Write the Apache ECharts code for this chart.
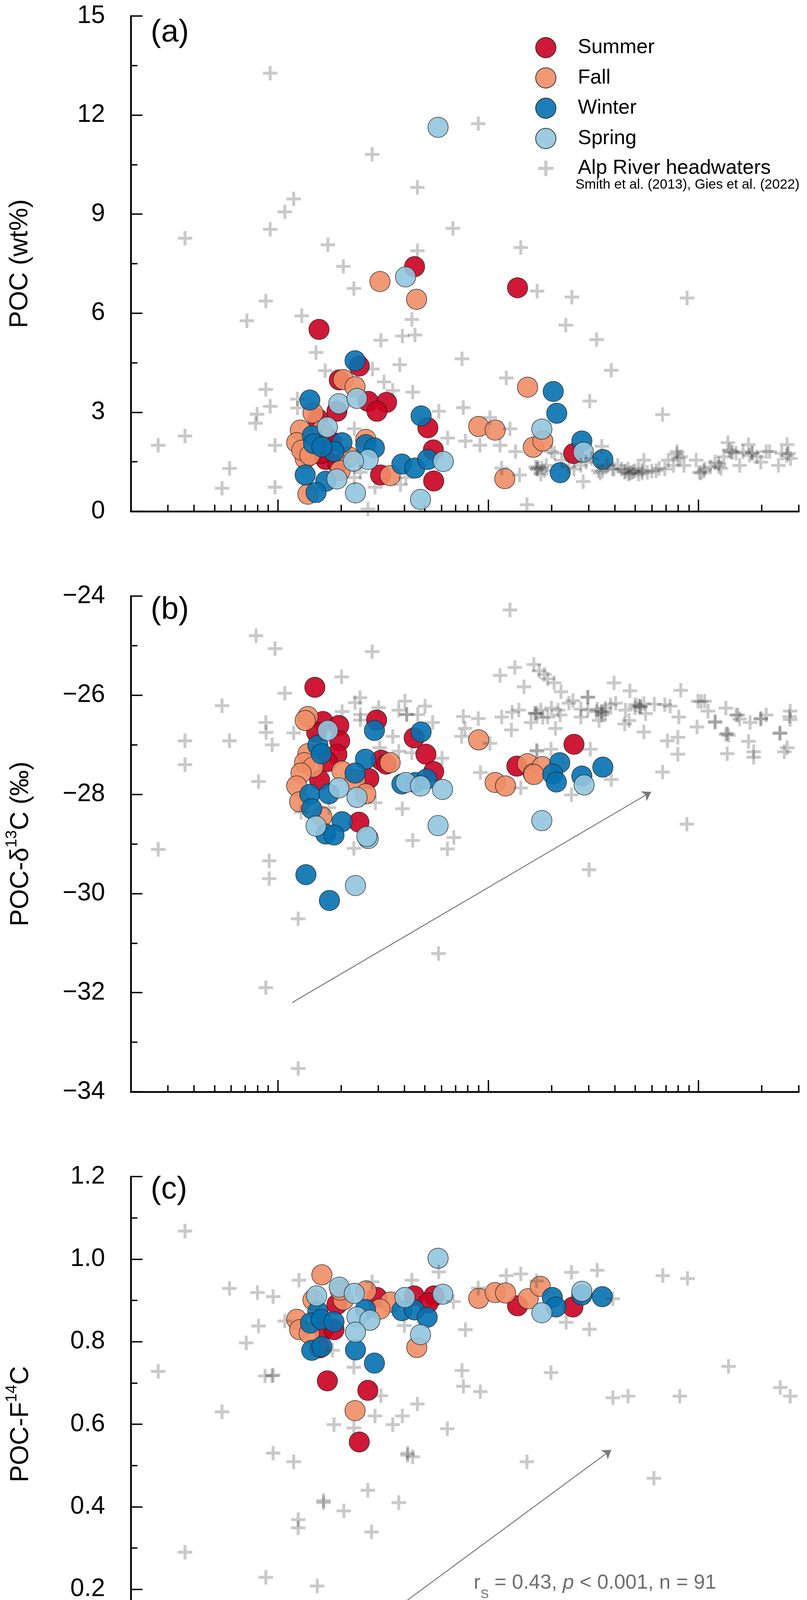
<!DOCTYPE html>
<html>
<head>
<meta charset="utf-8">
<script src="https://cdn.jsdelivr.net/npm/echarts@6/dist/echarts.min.js"></script>
<style>
html,body{margin:0;padding:0;background:#fff}
#chart{width:2067px;height:4596px}
</style>
</head>
<body>
<div id="chart"></div>
<script>
// ---- panel (a): runoff (mm/d) vs POC (wt%)
var pocSummer = [[4.47,7.41],[13.8,6.77],[1.57,5.51],[2.44,4.40],[1.96,3.98],[2.69,3.33],[3.29,3.30],[2.96,3.03],[1.91,3.03],[1.55,2.80],[5.17,2.53],[1.72,2.23],[1.69,1.57],[1.93,1.44],[3.08,1.10],[5.49,1.86],[5.51,0.92],[25.5,1.75],[1.60,1.75],[1.80,2.10]];
var pocFall = [[3.06,6.96],[4.57,6.42],[2.05,3.99],[2.33,3.77],[1.47,2.98],[9.02,2.57],[10.8,2.46],[15.4,3.76],[16.4,1.94],[18.2,2.13],[12.0,0.99],[1.28,2.46],[1.23,2.08],[1.62,2.45],[2.18,1.65],[2.62,2.18],[1.35,1.60],[1.39,0.52],[1.98,1.23],[3.42,1.08],[1.30,1.85],[1.42,1.70]];
var pocWinter = [[2.33,4.56],[1.42,3.37],[4.80,2.89],[1.46,2.29],[2.02,2.08],[1.85,1.81],[2.62,2.02],[2.88,1.92],[1.35,1.10],[1.69,0.91],[1.52,0.57],[3.89,1.43],[4.48,1.31],[5.16,1.57],[20.4,3.63],[21.2,2.97],[27.9,2.13],[35.1,1.57],[22.0,1.17],[1.48,2.05],[1.62,1.95]];
var pocSpring = [[4.05,7.10],[5.78,11.63],[1.95,3.26],[2.38,3.42],[1.72,2.55],[2.69,1.57],[2.29,1.52],[1.91,0.98],[2.34,0.56],[6.12,1.51],[4.77,0.36],[18.0,2.49],[28.4,1.79]];
var pocAlp = [[0.92,13.27],[2.81,10.81],[8.98,11.74],[4.61,9.81],[1.19,9.46],[1.08,9.07],[0.92,8.54],[0.362,8.27],[6.80,8.57],[1.73,8.07],[4.61,7.89],[14.3,7.99],[2.05,7.42],[2.30,6.75],[17.1,6.67],[25.0,6.49],[88.3,6.46],[0.877,6.37],[0.713,5.77],[1.30,5.92],[23.4,5.64],[32.8,5.20],[4.34,5.81],[3.91,5.31],[4.49,5.34],[3.09,5.18],[1.52,4.81],[7.51,4.62],[3.80,4.44],[1.68,4.26],[2.82,4.31],[38.5,4.27],[12.2,4.04],[3.20,3.92],[3.52,3.66],[4.38,3.61],[0.877,3.69],[1.24,3.40],[1.24,3.13],[0.92,3.18],[0.797,2.94],[0.784,2.67],[30.4,3.34],[67.5,2.93],[5.83,3.03],[7.62,3.14],[10.2,2.84],[2.31,2.50],[6.42,2.22],[7.80,2.13],[9.14,2.00],[11.4,2.00],[12.7,2.50],[0.97,2.00],[0.27,2.00],[0.362,2.28],[13.5,1.81],[11.6,1.31],[14.1,1.10],[2.47,1.18],[2.31,1.02],[2.90,0.73],[4.06,1.02],[3.83,0.81],[0.97,0.73],[0.59,1.30],[0.543,0.70],[2.68,0.07],[15.3,0.20],[28.3,0.90],[17.3,1.34],
  [16.8,1.34],[17.1,1.28],[17.8,1.13],[18.5,1.23],[18.9,1.39],[20.0,1.81],[20.7,1.76],[22.4,1.55],[24.2,1.34],[25.6,1.28],[27.6,1.39],[29.2,1.49],[31.0,1.60],[33.4,1.23],[34.7,1.97],[36.8,1.39],[39.0,1.28],[41.3,1.39],[43.0,1.28],[44.6,1.18],[46.3,1.28],[46.5,1.13],[48.1,1.18],[50.0,1.23],[51.9,1.28],[51.9,1.13],[53.9,1.23],[55.0,1.55],[57.1,1.18],[62.9,1.23],[69.2,1.28],[71.9,1.55],[76.1,1.39],[79.1,1.81],[82.2,1.65],[85.4,1.39],[97.5,1.55],[101,1.18],[107,1.28],[114,1.34],[120,1.49],[125,1.44],[132,1.65],[138,2.08],[143,1.81],[151,1.76],[157,1.39],[163,1.81],[173,2.02],[180,1.76],[190,1.65],[198,1.49],[210,1.81],[218,1.81],[240,1.39],[249,1.76],[264,2.02],[274,1.60],
  [47.1,1.16],[49.0,1.20],[54.0,1.16],[45.0,1.22],[17.1,1.28],[18.0,1.32],[34.1,1.16],[35.0,1.22],[39.7,1.28],[79.0,1.73],[80.0,1.62],[103,1.16],[106,1.22],[125,1.36],[128,1.30],[140,1.86],[145,1.78],[180,1.77],[175,1.70],[263,1.69],[268,1.75],[60.0,1.22],[65.0,1.30]];

// ---- panel (b): runoff vs POC-d13C (permil)
var d13cSummer = [[1.50,-25.84],[1.64,-26.53],[1.95,-26.61],[1.53,-26.75],[2.95,-26.50],[1.97,-26.92],[1.91,-27.19],[1.72,-27.34],[3.10,-27.31],[3.28,-27.39],[2.71,-27.68],[1.58,-27.71],[2.43,-28.56],[4.45,-26.86],[5.06,-27.19],[5.51,-27.54],[13.7,-27.43],[25.6,-26.99]];
var d13cFall = [[1.39,-26.43],[1.35,-26.51],[1.39,-27.18],[1.34,-27.36],[1.47,-27.45],[3.42,-27.36],[2.02,-27.53],[2.33,-27.71],[1.29,-27.57],[1.23,-27.83],[2.62,-27.99],[1.27,-28.15],[1.62,-28.45],[9.02,-26.90],[10.8,-27.76],[12.1,-27.83],[15.4,-27.38],[16.4,-27.58],[18.1,-27.44],[16.5,-27.60]];
var d13cWinter = [[2.88,-26.71],[1.55,-27.01],[1.61,-27.18],[2.61,-27.29],[2.33,-27.57],[1.42,-28.00],[1.75,-27.99],[1.45,-28.29],[2.02,-28.55],[1.69,-28.80],[1.85,-28.82],[4.80,-26.74],[3.89,-27.79],[4.51,-27.76],[5.10,-27.69],[1.36,-29.62],[1.76,-30.14],[21.9,-27.36],[20.3,-27.59],[21.1,-27.75],[27.9,-27.63],[35.1,-27.45]];
var d13cSpring = [[1.73,-26.71],[1.95,-27.87],[2.38,-28.06],[1.52,-28.64],[2.69,-28.89],[2.65,-28.85],[4.06,-27.76],[4.77,-27.83],[6.07,-27.90],[5.78,-28.63],[18.0,-28.53],[2.34,-29.84],[28.6,-27.81]];
var d13cAlp = [[12.7,-24.28],[0.788,-24.80],[0.97,-25.06],[2.81,-25.12],[2.01,-25.63],[1.08,-25.96],[0.543,-26.21],[0.362,-26.92],[0.589,-26.92],[0.362,-27.40],[0.877,-26.55],[0.88,-26.75],[0.94,-27.0],[0.81,-27.74],[0.27,-29.11],[0.91,-29.34],[0.91,-29.70],[1.25,-30.51],[0.877,-31.90],[5.81,-31.21],[1.25,-33.53],[30.2,-29.52],[88.1,-28.60],
  [2.46,-26.05],[2.33,-26.15],[4.02,-26.12],[5.01,-26.22],[2.02,-26.33],[2.47,-26.39],[2.47,-26.50],[3.02,-26.25],[3.76,-26.30],[4.10,-26.39],[4.10,-26.39],[4.63,-26.39],[5.45,-26.55],[1.19,-26.76],[3.52,-26.83],[3.05,-27.06],[3.76,-27.13],[4.34,-27.16],[6.04,-27.27],[7.62,-26.43],[8.98,-26.47],[7.76,-26.67],[7.48,-26.83],[11.4,-25.60],[13.4,-25.44],[14.8,-25.83],[11.6,-26.44],[12.9,-26.70],[13.0,-26.34],[16.7,-26.36],[10.2,-26.97],[9.19,-27.56],[17.1,-27.13],[14.3,-27.87],[2.91,-28.17],[3.91,-28.29],[1.75,-28.27],[1.29,-28.36],[6.87,-28.87],[4.38,-28.93],[6.40,-29.10],[2.30,-29.09],
  [16.5,-25.38],[17.5,-25.51],[18.5,-25.58],[19.2,-25.67],[20.6,-25.75],[22.2,-25.93],[16.8,-26.37],[17.8,-26.30],[19.2,-26.44],[20.0,-26.26],[20.9,-26.67],[21.5,-26.30],[22.0,-26.40],[24.2,-26.16],[25.3,-26.11],[27.6,-26.44],[27.6,-26.28],[29.8,-26.04],[29.8,-26.30],[32.8,-26.33],[33.7,-26.51],[34.7,-26.33],[34.7,-26.33],[36.1,-26.26],[38.2,-26.19],[39.7,-25.75],[40.4,-26.16],[44.6,-26.58],[46.8,-26.51],[47.2,-25.91],[50.1,-26.19],[53.0,-26.23],[53.0,-26.23],[56.1,-26.37],[55.0,-26.74],[61.7,-26.18],[69.2,-26.19],[73.3,-26.22],[80.7,-26.44],[82.4,-25.90],[71.2,-26.92],[79.8,-26.85],[79.8,-27.19],[67.5,-27.55],[99.5,-26.12],[107,-26.12],[98.5,-26.64],[111,-26.32],[120,-26.55],[135,-26.26],[135,-26.79],[139,-26.81],[137,-27.18],[151,-26.40],[157,-26.48],[173,-26.93],[183,-27.14],[183,-27.25],[198,-26.48],[210,-26.40],[244,-26.76],[273,-26.32],[273,-26.49],[264,-27.06],[256,-27.14],[176,-26.55],[38.5,-27.70],[24.9,-28.01],[30.6,-27.09],[19.9,-27.09],[17.0,-27.11],
  [34.7,-26.40],[33.0,-26.28],[36.0,-26.36],[52.0,-26.21],[50.0,-26.25],[55.0,-26.17],[17.1,-26.37],[18.2,-26.45],[29.8,-26.04],[103,-26.13],[120,-26.53],[137,-26.77],[154,-26.40],[198,-26.47],[244,-26.77],[271,-26.43],[45.0,-26.30],[14.0,-26.30],[16.0,-26.55]];
var d13cArrow = [[1.17,-32.20],[59.6,-27.95]];

// ---- panel (c): runoff vs POC-F14C
var f14cSummer = [[2.96,0.907],[4.45,0.911],[5.53,0.911],[1.91,0.890],[5.19,0.894],[1.65,0.829],[1.85,0.829],[1.58,0.785],[1.72,0.705],[2.68,0.682],[2.44,0.557],[13.8,0.887],[25.3,0.884]];
var f14cFall = [[1.62,0.962],[2.63,0.923],[1.47,0.901],[2.05,0.901],[3.43,0.896],[3.06,0.879],[1.23,0.854],[1.27,0.829],[1.41,0.820],[4.58,0.786],[2.33,0.633],[9.02,0.905],[10.8,0.919],[12.1,0.918],[15.5,0.904],[17.7,0.934],[1.98,0.925]];
var f14cWinter = [[2.61,0.878],[3.89,0.875],[4.46,0.877],[5.13,0.859],[1.55,0.873],[1.43,0.845],[1.61,0.854],[1.85,0.848],[1.45,0.779],[1.62,0.788],[2.34,0.780],[2.88,0.748],[20.2,0.907],[21.0,0.884],[27.9,0.913],[34.9,0.909]];
var f14cSpring = [[5.78,1.002],[1.96,0.932],[2.31,0.917],[1.53,0.911],[4.02,0.907],[6.09,0.915],[2.38,0.860],[2.74,0.852],[2.34,0.823],[4.77,0.817],[18.0,0.870],[27.9,0.922]];
var f14cAlp = [[1.26,0.949],[4.34,0.949],[5.83,0.969],[12.2,0.960],[14.3,0.964],[17.0,0.947],[8.97,0.930],[2.81,0.945],[6.84,0.897],[7.80,0.829],[4.00,0.839],[1.08,0.850],[0.95,0.909],[1.82,0.779],[7.51,0.730],[7.63,0.692],[9.18,0.679],[0.95,0.719],[3.09,0.669],[4.61,0.649],[2.30,0.738],[2.90,0.620],[3.91,0.620],[3.52,0.599],[1.85,0.599],[2.30,0.591],[6.40,0.589],[0.95,0.530],[1.19,0.509],[4.14,0.530],[4.38,0.521],[4.14,0.525],[15.3,0.509],[2.68,0.440],[1.65,0.415],[1.65,0.410],[3.76,0.410],[0.362,1.068],[0.27,0.728],[0.589,0.929],[0.80,0.919],[0.81,0.838],[0.708,0.797],[0.87,0.717],[0.94,0.717],[0.543,0.630],[1.25,0.369],[1.25,0.349],[2.06,0.390],[2.79,0.339],[0.362,0.290],[0.877,0.229],[1.54,0.208],[0.92,0.080],[61.4,0.469],[19.9,0.725],[30.3,0.830],[23.5,0.847],[39.2,0.664],[46.3,0.668],[81.5,0.668],[139,0.740],[245,0.689],[273,0.668],[67.7,0.960],[88.7,0.953],[24.9,0.968],[33.0,0.973],[39.2,0.904]];
var f14cArrow = [[2.23,0.073],[38.5,0.538]];
var f14cStatPos = [8.54, 0.206];

var xMajorTicks = [1, 10, 100];
var xMinorTicks = [0.3,0.4,0.5,0.6,0.7,0.8,0.9,2,3,4,5,6,7,8,9,20,30,40,50,60,70,80,90,200,300];

var FONT = "'Liberation Sans', Arial, sans-serif";
var seasonNames = ['Summer', 'Fall', 'Winter', 'Spring'];
var seasonColors = ['#ca0020', '#ef8d66', '#0571b0', '#92c5de'];
var alpName = 'Alp River headwaters';
var plusPath = 'path://M4,0H6V4H10V6H6V10H4V6H0V4H4Z';
var plusIcon = 'path://M-1.6,-1.6h0.01M11.6,11.6h0.01M4,0H6V4H10V6H6V10H4V6H0V4H4Z';

var grids = [
  {left: 335, top: 41, width: 1711, height: 1268},
  {left: 335, top: 1526, width: 1711, height: 1269},
  {left: 335, top: 3012, width: 1711, height: 1268}
];

var myChart = echarts.init(document.getElementById('chart'));

var supRich = {
  m: {fontSize: 66, fontFamily: FONT, color: '#000', verticalAlign: 'bottom', lineHeight: 76},
  s: {fontSize: 40, fontFamily: FONT, color: '#000', verticalAlign: 'top', lineHeight: 40}
};

var xAxes = [];
var yAxes = [];
grids.forEach(function (g, i) {
  var last = i === 2;
  // main log axis with decade ticks
  xAxes.push({
    type: 'log', gridIndex: i, min: 0.2, max: 300, position: 'bottom',
    axisLine: {onZero: false, lineStyle: {color: '#000', width: 4.5}},
    axisTick: {inside: true, length: 30, lineStyle: {color: '#000', width: 3.5}, customValues: xMajorTicks},
    axisLabel: {
      show: last, margin: 88, customValues: xMajorTicks,
      formatter: function (v) { return '{m|10}{s|' + Math.round(Math.log10(v)) + '}'; },
      rich: {
        m: {fontSize: 64, fontFamily: FONT, color: '#000', verticalAlign: 'bottom', lineHeight: 72},
        s: {fontSize: 40, fontFamily: FONT, color: '#000', verticalAlign: 'top', lineHeight: 40}
      }
    },
    splitLine: {show: false},
    name: last ? '{m|Runoff (mm d}{s|-1}{m|)}' : '',
    nameLocation: 'middle', nameGap: 226,
    nameTextStyle: {rich: supRich}
  });
  // second log axis only for the in-between ticks
  xAxes.push({
    type: 'log', gridIndex: i, min: 0.2, max: 300, position: 'bottom',
    axisLine: {show: false},
    axisTick: {inside: true, length: 17, lineStyle: {color: '#000', width: 3.5}, customValues: xMinorTicks},
    axisLabel: {show: false},
    splitLine: {show: false}
  });
});

var yCommon = {
  axisLine: {show: true, onZero: false, lineStyle: {color: '#000', width: 4.5}},
  axisTick: {inside: true, length: 30, lineStyle: {color: '#000', width: 3.5}},
  minorTick: {show: true, splitNumber: 2, length: 17, lineStyle: {color: '#000', width: 3.5}},
  splitLine: {show: false},
  nameLocation: 'middle', nameGap: 250
};
function yLabel(fmt) {
  return {fontSize: 64, fontFamily: FONT, color: '#000', margin: 66, formatter: fmt};
}
yAxes.push(Object.assign({}, yCommon, {
  type: 'value', gridIndex: 0, min: 0, max: 15, interval: 3,
  axisLabel: yLabel(function (v) { return String(v); }),
  name: 'POC (wt%)',
  nameTextStyle: {fontSize: 66, fontFamily: FONT, color: '#000'}
}));
yAxes.push(Object.assign({}, yCommon, {
  type: 'value', gridIndex: 1, min: -34, max: -24, interval: 2,
  axisLabel: yLabel(function (v) { return String(v).replace('-', '\u2212'); }),
  name: '{m|POC-\u03b4}{s|13}{m|C (\u2030)}',
  nameGap: 248,
  nameTextStyle: {rich: supRich}
}));
yAxes.push(Object.assign({}, yCommon, {
  type: 'value', gridIndex: 2, min: 0, max: 1.2, interval: 0.2,
  axisLabel: yLabel(function (v) { return v.toFixed(1); }),
  name: '{m|POC-F}{s|14}{m|C}',
  nameGap: 248,
  nameTextStyle: {rich: supRich}
}));

var panels = [
  {seasons: [pocSummer, pocFall, pocWinter, pocSpring], alp: pocAlp},
  {seasons: [d13cSummer, d13cFall, d13cWinter, d13cSpring], alp: d13cAlp},
  {seasons: [f14cSummer, f14cFall, f14cWinter, f14cSpring], alp: f14cAlp}
];

var series = [];
panels.forEach(function (p, i) {
  p.seasons.forEach(function (d, k) {
    series.push({
      name: seasonNames[k], type: 'scatter', xAxisIndex: i * 2, yAxisIndex: i,
      data: d, symbol: 'circle', symbolSize: 52, z: 2,
      itemStyle: {color: seasonColors[k], opacity: 0.9, borderColor: '#222', borderWidth: 1.5},
      emphasis: {disabled: true}
    });
  });
  series.push({
    name: alpName, type: 'scatter', xAxisIndex: i * 2, yAxisIndex: i,
    data: p.alp, symbol: plusPath, symbolSize: 37, z: 3,
    itemStyle: {color: 'rgba(60,60,60,0.35)'},
    emphasis: {disabled: true}
  });
});

var arrowStyle = {color: '#7a7a7a', width: 2.5, opacity: 1};
series.push({
  type: 'lines', coordinateSystem: 'cartesian2d', xAxisIndex: 2, yAxisIndex: 1,
  symbol: ['none', 'arrow'], symbolSize: 22, lineStyle: arrowStyle, z: 4,
  data: [{coords: d13cArrow}]
});
series.push({
  type: 'lines', coordinateSystem: 'cartesian2d', xAxisIndex: 4, yAxisIndex: 2,
  symbol: ['none', 'arrow'], symbolSize: 22, lineStyle: arrowStyle, z: 4,
  data: [{coords: f14cArrow}]
});
series.push({
  type: 'scatter', xAxisIndex: 4, yAxisIndex: 2, symbolSize: 0, silent: true, z: 5,
  data: [f14cStatPos],
  label: {
    show: true, position: 'right', distance: 0,
    formatter: '{t|r}{b|S}{t| = 0.43, }{i|p}{t| < 0.001, n = 91}',
    rich: {
      t: {fontSize: 52, fontFamily: FONT, color: '#4a4a4a', verticalAlign: 'top', lineHeight: 72},
      i: {fontSize: 52, fontFamily: FONT, color: '#4a4a4a', fontStyle: 'italic', verticalAlign: 'top', lineHeight: 72},
      b: {fontSize: 32, fontFamily: FONT, color: '#4a4a4a', verticalAlign: 'bottom', lineHeight: 32}
    }
  }
});

var option = {
  backgroundColor: '#fff',
  animation: false,
  grid: grids,
  xAxis: xAxes,
  yAxis: yAxes,
  legend: {
    orient: 'vertical', left: 1366, top: 90,
    itemWidth: 52, itemHeight: 52, itemGap: 23.5, selectedMode: false,
    textStyle: {fontSize: 52, fontFamily: FONT, color: '#000', padding: [0, 0, 0, 51]},
    data: [
      {name: 'Summer', icon: 'circle'},
      {name: 'Fall', icon: 'circle'},
      {name: 'Winter', icon: 'circle'},
      {name: 'Spring', icon: 'circle'},
      {name: alpName, icon: plusIcon}
    ]
  },
  graphic: [
    {type: 'text', left: 1474, top: 456, style: {text: 'Smith et al. (2013), Gies et al. (2022)', fontSize: 35, fontFamily: FONT, fill: '#000'}},
    {type: 'text', left: 386, top: 44, style: {text: '(a)', fontSize: 80, fontFamily: FONT, fill: '#000'}},
    {type: 'text', left: 386, top: 1522, style: {text: '(b)', fontSize: 80, fontFamily: FONT, fill: '#000'}},
    {type: 'text', left: 386, top: 3006, style: {text: '(c)', fontSize: 80, fontFamily: FONT, fill: '#000'}}
  ],
  series: series
};
myChart.setOption(option);
</script>
</body>
</html>
